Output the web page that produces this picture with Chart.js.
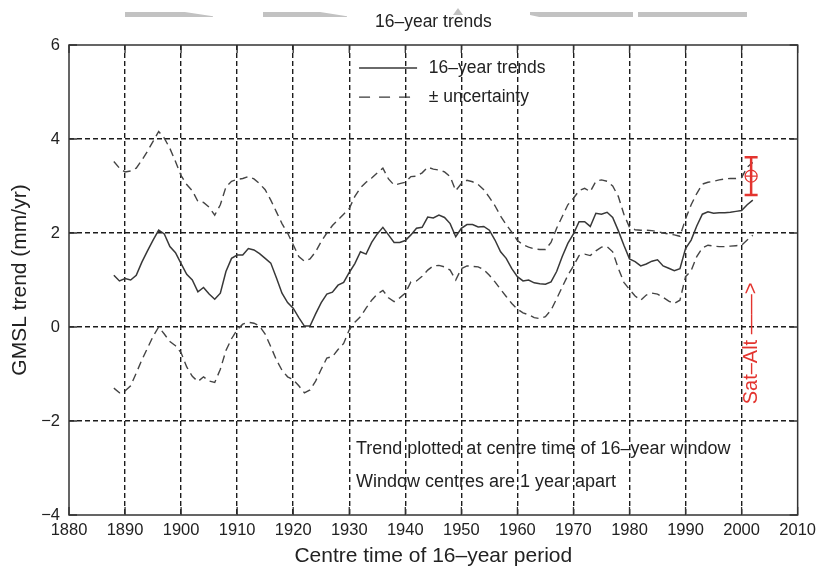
<!DOCTYPE html>
<html>
<head>
<meta charset="utf-8">
<title>16-year trends</title>
<script src="https://cdn.jsdelivr.net/npm/chart.js@4.4.0/dist/chart.umd.min.js"></script>
<style>
  body { margin: 0; background: #fff; }
  #wrap { position: relative; width: 822px; height: 569px; }
  .cinza { position: absolute; background: #c2c2c2; }
</style>
</head>
<body>
<div id="wrap">
  <canvas id="grafico-trends" width="822" height="569"></canvas>
  <!-- bits of the page above, cut off in the scan -->
  <div class="cinza" style="left:125px;top:12px;width:88px;height:5px;clip-path:polygon(0 0,68% 0,100% 85%,100% 100%,0 100%)"></div>
  <div class="cinza" style="left:263px;top:12px;width:84px;height:5px;clip-path:polygon(0 0,68% 0,100% 85%,100% 100%,0 100%)"></div>
  <div class="cinza" style="left:453px;top:8px;width:10px;height:7px;clip-path:polygon(50% 0,100% 100%,0 100%)"></div>
  <div class="cinza" style="left:530px;top:12px;width:103px;height:5px;clip-path:polygon(0 0,100% 0,100% 100%,9% 100%,0 60%)"></div>
  <div class="cinza" style="left:638px;top:12px;width:109px;height:5px"></div>
</div>
<script>
// centre year of each 16-year window
var anos = [
  1888, 1889, 1890, 1891, 1892, 1893, 1894, 1895, 1896, 1897,
  1898, 1899, 1900, 1901, 1902, 1903, 1904, 1905, 1906, 1907,
  1908, 1909, 1910, 1911, 1912, 1913, 1914, 1915, 1916, 1917,
  1918, 1919, 1920, 1921, 1922, 1923, 1924, 1925, 1926, 1927,
  1928, 1929, 1930, 1931, 1932, 1933, 1934, 1935, 1936, 1937,
  1938, 1939, 1940, 1941, 1942, 1943, 1944, 1945, 1946, 1947,
  1948, 1949, 1950, 1951, 1952, 1953, 1954, 1955, 1956, 1957,
  1958, 1959, 1960, 1961, 1962, 1963, 1964, 1965, 1966, 1967,
  1968, 1969, 1970, 1971, 1972, 1973, 1974, 1975, 1976, 1977,
  1978, 1979, 1980, 1981, 1982, 1983, 1984, 1985, 1986, 1987,
  1988, 1989, 1990, 1991, 1992, 1993, 1994, 1995, 1996, 1997,
  1998, 1999, 2000, 2001, 2002
];

// GMSL trend (mm/yr)
var tendencia = [
  1.10, 0.98, 1.03, 1.00, 1.10, 1.38, 1.62, 1.85, 2.06, 1.98,
  1.71, 1.58, 1.35, 1.12, 1.00, 0.75, 0.84, 0.70, 0.59, 0.72,
  1.18, 1.46, 1.53, 1.53, 1.67, 1.64, 1.56, 1.46, 1.36, 1.05,
  0.72, 0.52, 0.40, 0.20, 0.02, 0.02, 0.28, 0.52, 0.70, 0.74,
  0.89, 0.95, 1.16, 1.35, 1.60, 1.55, 1.80, 1.98, 2.12, 1.96,
  1.80, 1.80, 1.84, 1.96, 2.10, 2.12, 2.34, 2.32, 2.38, 2.33,
  2.20, 1.92, 2.10, 2.18, 2.18, 2.13, 2.14, 2.06, 1.85, 1.60,
  1.46, 1.24, 1.07, 0.98, 1.00, 0.94, 0.92, 0.91, 0.96, 1.18,
  1.50, 1.78, 1.98, 2.24, 2.24, 2.14, 2.42, 2.40, 2.44, 2.33,
  2.05, 1.74, 1.45, 1.39, 1.30, 1.34, 1.40, 1.43, 1.30, 1.25,
  1.20, 1.24, 1.67, 1.85, 2.15, 2.40, 2.45, 2.42, 2.43, 2.43,
  2.44, 2.46, 2.48, 2.60, 2.70
];

var incertezaSup = [
  3.52, 3.38, 3.30, 3.32, 3.38, 3.55, 3.74, 3.95, 4.16, 4.02,
  3.80, 3.52, 3.22, 3.03, 2.90, 2.67, 2.65, 2.55, 2.38, 2.60,
  2.98, 3.10, 3.14, 3.16, 3.20, 3.15, 3.05, 2.92, 2.70, 2.45,
  2.20, 2.00, 1.75, 1.50, 1.40, 1.45, 1.60, 1.82, 2.00, 2.16,
  2.28, 2.40, 2.52, 2.78, 2.96, 3.08, 3.17, 3.28, 3.38, 3.15,
  3.02, 3.05, 3.08, 3.20, 3.21, 3.28, 3.40, 3.36, 3.34, 3.30,
  3.20, 2.90, 3.05, 3.12, 3.09, 3.03, 2.92, 2.76, 2.58, 2.36,
  2.18, 2.02, 1.84, 1.75, 1.70, 1.66, 1.65, 1.65, 1.80, 2.10,
  2.35, 2.60, 2.74, 2.90, 2.95, 2.88, 3.10, 3.13, 3.10, 3.00,
  2.78, 2.40, 2.12, 2.07, 2.06, 2.06, 2.05, 2.03, 2.00, 1.98,
  1.96, 1.93, 2.30, 2.60, 2.84, 3.04, 3.08, 3.10, 3.13, 3.15,
  3.16, 3.16, 3.18, 3.40, 3.50
];

var incertezaInf = [
  -1.30, -1.40, -1.36, -1.25, -0.98, -0.70, -0.45, -0.20, 0.00, -0.15,
  -0.31, -0.40, -0.55, -0.85, -1.05, -1.16, -1.06, -1.15, -1.18, -0.90,
  -0.50, -0.25, -0.06, 0.06, 0.10, 0.08, 0.02, -0.15, -0.42, -0.70,
  -0.92, -1.06, -1.12, -1.25, -1.40, -1.34, -1.15, -0.90, -0.66, -0.63,
  -0.48, -0.35, -0.06, 0.10, 0.22, 0.40, 0.57, 0.70, 0.78, 0.62,
  0.54, 0.62, 0.72, 0.96, 0.98, 1.08, 1.21, 1.30, 1.31, 1.28,
  1.21, 1.00, 1.24, 1.30, 1.29, 1.28, 1.22, 1.10, 0.96, 0.80,
  0.65, 0.50, 0.38, 0.30, 0.26, 0.20, 0.18, 0.22, 0.36, 0.60,
  0.85, 1.10, 1.30, 1.52, 1.55, 1.52, 1.62, 1.70, 1.71, 1.60,
  1.25, 0.95, 0.80, 0.66, 0.57, 0.68, 0.72, 0.70, 0.63, 0.55,
  0.50, 0.57, 1.07, 1.20, 1.50, 1.68, 1.74, 1.72, 1.71, 1.71,
  1.72, 1.73, 1.74, 1.85, 1.95
];

// satellite altimetry estimate
var satAno = [2001.7];
var satTaxa = [3.21];
var satMin = [2.81];
var satMax = [3.61];

var ticksX = [1880, 1890, 1900, 1910, 1920, 1930, 1940, 1950, 1960, 1970, 1980, 1990, 2000, 2010];
var ticksY = [-4, -2, 0, 2, 4, 6];

function pontos(valores) {
  return anos.map(function (a, i) { return { x: a, y: valores[i] }; });
}

var corLinha = "#383838";
var corVermelho = "#e3342f";
var fonte = "'Liberation Sans', Arial, Helvetica, sans-serif";

// grid only inside the box, frame drawn separately
function corGrade(ticks) {
  return function (ctx) {
    var v = ctx.tick ? ctx.tick.value : null;
    if (v === ticks[0] || v === ticks[ticks.length - 1]) return "rgba(0,0,0,0)";
    return "#1c1c1c";
  };
}

var anotacoes = {
  id: "anotacoes",
  afterDraw: function (chart) {
    var ctx = chart.ctx;
    var a = chart.chartArea;
    var x = chart.scales.x;
    var y = chart.scales.y;
    ctx.save();

    ctx.setLineDash([]);
    ctx.strokeStyle = "#333";
    ctx.lineWidth = 1.5;
    ctx.strokeRect(a.left, a.top, a.right - a.left, a.bottom - a.top);

    // small inward ticks on the frame
    ctx.lineWidth = 1.3;
    ctx.beginPath();
    ticksX.forEach(function (v) {
      var px = x.getPixelForValue(v);
      ctx.moveTo(px, a.bottom); ctx.lineTo(px, a.bottom - 8);
      ctx.moveTo(px, a.top); ctx.lineTo(px, a.top + 8);
    });
    ticksY.forEach(function (v) {
      var py = y.getPixelForValue(v);
      ctx.moveTo(a.left, py); ctx.lineTo(a.left + 8, py);
      ctx.moveTo(a.right, py); ctx.lineTo(a.right - 8, py);
    });
    ctx.stroke();

    // legend
    var lx1 = x.getPixelForValue(1931.75);
    var lx2 = x.getPixelForValue(1942.1);
    var tx = x.getPixelForValue(1944.2);
    var r1 = y.getPixelForValue(5.51);
    var r2 = y.getPixelForValue(4.89);
    ctx.strokeStyle = corLinha;
    ctx.lineWidth = 1.4;
    ctx.beginPath(); ctx.moveTo(lx1, r1); ctx.lineTo(lx2, r1); ctx.stroke();
    ctx.setLineDash([11, 9]);
    ctx.beginPath(); ctx.moveTo(lx1, r2); ctx.lineTo(lx2, r2); ctx.stroke();
    ctx.setLineDash([]);
    ctx.fillStyle = "#222";
    ctx.font = "17.5px " + fonte;
    ctx.textAlign = "left";
    ctx.textBaseline = "middle";
    ctx.fillText("16\u2013year trends", tx, r1);
    ctx.fillText("\u00b1 uncertainty", tx, r2);

    // notes
    ctx.font = "18px " + fonte;
    var nx = x.getPixelForValue(1931.2);
    ctx.fillText("Trend plotted at centre time of 16\u2013year window", nx, y.getPixelForValue(-2.60));
    ctx.fillText("Window centres are 1 year apart", nx, y.getPixelForValue(-3.29));

    // Sat-Alt label
    ctx.translate(x.getPixelForValue(2001.7), y.getPixelForValue(-0.35));
    ctx.rotate(-Math.PI / 2);
    ctx.fillStyle = corVermelho;
    ctx.font = "20px " + fonte;
    ctx.textAlign = "center";
    ctx.fillText("Sat\u2013Alt \u2014\u2014>", 0, 0);

    ctx.restore();
  }
};

var config = {
  type: "line",
  data: {
    datasets: [
      {
        label: "Sat-Alt",
        data: [{ x: satAno[0], y: satMin[0] }, { x: satAno[0], y: satMax[0] }],
        borderColor: corVermelho,
        borderWidth: 2.5,
        pointStyle: "line",
        pointRadius: 6.5,
        pointBorderWidth: 2.5,
        pointBorderColor: corVermelho
      },
      {
        label: "Sat-Alt circulo",
        data: [{ x: satAno[0], y: satTaxa[0] }],
        showLine: false,
        pointStyle: "circle",
        pointRadius: 6,
        pointBorderWidth: 1.2,
        pointBorderColor: corVermelho,
        pointBackgroundColor: "rgba(0,0,0,0)"
      },
      {
        label: "Sat-Alt cruz",
        data: [{ x: satAno[0], y: satTaxa[0] }],
        showLine: false,
        pointStyle: "cross",
        pointRadius: 6,
        pointBorderWidth: 1.2,
        pointBorderColor: corVermelho
      },
      {
        label: "16-year trends",
        data: pontos(tendencia),
        borderColor: corLinha,
        borderWidth: 1.5,
        pointRadius: 0
      },
      {
        label: "+ uncertainty",
        data: pontos(incertezaSup),
        borderColor: "#444",
        borderWidth: 1.4,
        borderDash: [8, 5],
        pointRadius: 0
      },
      {
        label: "- uncertainty",
        data: pontos(incertezaInf),
        borderColor: "#444",
        borderWidth: 1.4,
        borderDash: [8, 5],
        pointRadius: 0
      }
    ]
  },
  options: {
    responsive: false,
    animation: false,
    devicePixelRatio: 1,
    events: [],
    layout: { padding: { left: 0, right: 21, top: 0, bottom: 0 } },
    plugins: {
      legend: { display: false },
      tooltip: { enabled: false },
      title: {
        display: true,
        text: "16\u2013year trends",
        fullSize: false,
        color: "#222",
        font: { family: fonte, size: 17.5, weight: "normal" },
        padding: { top: 12, bottom: 12 }
      }
    },
    scales: {
      x: {
        type: "linear",
        min: 1880,
        max: 2010,
        afterBuildTicks: function (s) { s.ticks = ticksX.map(function (v) { return { value: v }; }); },
        afterFit: function (s) { s.height = 54; },
        ticks: {
          color: "#222",
          padding: 6,
          maxRotation: 0,
          font: { family: fonte, size: 16.5 },
          callback: function (v) { return String(v); }
        },
        grid: { color: corGrade(ticksX), lineWidth: 1.4, drawTicks: false },
        border: { display: false, dash: [5, 3] },
        title: {
          display: true,
          text: "Centre time of 16\u2013year period",
          color: "#222",
          font: { family: fonte, size: 21 },
          padding: { top: 0, bottom: 0 }
        }
      },
      y: {
        type: "linear",
        min: -4,
        max: 6,
        afterBuildTicks: function (s) { s.ticks = ticksY.map(function (v) { return { value: v }; }); },
        afterFit: function (s) { s.width = 69; },
        ticks: {
          color: "#222",
          padding: 9,
          font: { family: fonte, size: 16.5 },
          callback: function (v) { return v < 0 ? "\u2212" + Math.abs(v) : String(v); }
        },
        grid: { color: corGrade(ticksY), lineWidth: 1.4, drawTicks: false },
        border: { display: false, dash: [5, 3] },
        title: {
          display: true,
          text: "GMSL trend (mm/yr)",
          color: "#222",
          font: { family: fonte, size: 21 },
          padding: { top: 8, bottom: 0 }
        }
      }
    }
  },
  plugins: [anotacoes]
};

var myChart = new Chart(document.getElementById("grafico-trends"), config);
</script>
</body>
</html>
